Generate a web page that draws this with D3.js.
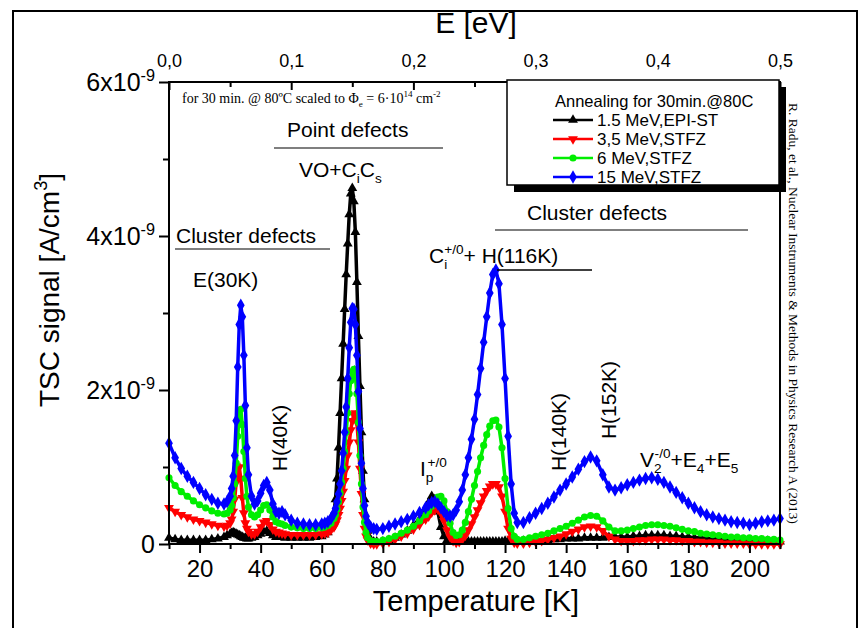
<!DOCTYPE html>
<html>
<meta charset="utf-8">
<style>
  body { margin: 0; background: #fff; }
  svg { font-family: "Liberation Sans", Arial, sans-serif; }
  .serif { font-family: "Liberation Serif", "Times New Roman", serif; }
</style>
<body>
<script src="https://d3js.org/d3.v7.min.js"></script>
<script>
// temperature grid [K]
const temps = [
  10,12,14,16,18,20,22,24,26,28,
  29,30,30.5,31,31.5,32,32.5,33,33.5,34,34.5,35,35.5,36,
  37,38,39,40,41,42,43,44,45,46,47,48,
  50,52,54,56,58,60,61,62,63,
  64,64.5,65,65.5,66,66.5,67,67.5,68,68.5,69,69.5,70,70.5,71,71.5,72,72.5,73,73.5,74,74.5,75,76,
  77,78,80,82,84,86,88,90,92,94,
  95,96,97,98,99,100,101,102,103,104,
  105,106,107,108,109,110,111,112,113,114,115,116,117,118,119,120,121,122,123,124,
  126,128,130,132,134,136,138,140,142,144,146,148,150,152,154,156,158,160,162,164,166,168,
  170,172,174,176,178,180,182,184,186,188,190,192,194,196,198,200,202,204,206,208,210
];

// TSC signal, units of 1e-9 A/cm3
const epi15 = [
  0.08,0.06,0.05,0.05,0.05,0.05,0.05,0.06,0.07,0.09,
  0.11,0.13,0.14,0.15,0.14,0.13,0.12,0.11,0.10,0.09,0.08,0.08,0.07,0.07,
  0.08,0.09,0.11,0.13,0.16,0.17,0.14,0.11,0.09,0.09,0.09,0.08,
  0.08,0.08,0.08,0.08,0.09,0.10,0.12,0.15,0.22,
  0.40,0.58,0.85,1.25,1.70,2.15,2.60,3.05,3.50,3.90,4.28,4.55,4.62,4.45,4.05,3.40,2.70,2.05,1.45,0.95,0.58,0.32,0.17,0.06,
  0.03,0.03,0.03,0.05,0.08,0.12,0.17,0.24,0.32,0.45,
  0.54,0.62,0.58,0.42,0.22,0.10,0.05,0.03,0.03,0.03,
  0.03,0.03,0.03,0.03,0.03,0.03,0.03,0.03,0.03,0.03,0.03,0.03,0.03,0.03,0.03,0.04,0.04,0.04,0.04,0.04,
  0.04,0.04,0.05,0.05,0.05,0.06,0.06,0.07,0.07,0.07,0.08,0.08,0.08,0.08,0.09,0.09,0.09,0.09,0.10,0.10,0.11,0.11,
  0.11,0.11,0.10,0.10,0.09,0.09,0.08,0.08,0.07,0.07,0.06,0.06,0.05,0.05,0.05,0.04,0.04,0.04,0.04,0.03,0.03
];
const stfz35 = [
  0.47,0.42,0.38,0.35,0.32,0.30,0.28,0.26,0.24,0.23,
  0.24,0.27,0.32,0.42,0.58,0.80,0.97,1.00,0.85,0.60,0.40,0.27,0.20,0.16,
  0.13,0.13,0.16,0.22,0.28,0.30,0.25,0.19,0.16,0.15,0.14,0.13,
  0.12,0.12,0.12,0.12,0.12,0.13,0.14,0.15,0.18,
  0.22,0.26,0.31,0.38,0.46,0.56,0.68,0.82,0.98,1.15,1.32,1.48,1.60,1.68,1.70,1.58,1.32,0.98,0.65,0.38,0.20,0.10,0.05,0.01,
  0.00,0.00,0.01,0.03,0.06,0.10,0.14,0.19,0.25,0.32,
  0.36,0.41,0.44,0.45,0.40,0.30,0.18,0.09,0.04,0.02,
  0.03,0.06,0.11,0.18,0.26,0.35,0.44,0.53,0.62,0.69,0.75,0.78,0.78,0.74,0.62,0.42,0.20,0.07,0.02,0.01,
  0.01,0.02,0.03,0.04,0.06,0.08,0.10,0.13,0.16,0.19,0.22,0.23,0.22,0.17,0.10,0.06,0.04,0.04,0.04,0.05,0.05,0.06,
  0.06,0.06,0.05,0.05,0.04,0.04,0.03,0.03,0.02,0.02,0.02,0.01,0.01,0.01,0.01,0.00,0.00,0.00,0.00,0.00,0.00
];
const stfz6 = [
  0.86,0.76,0.68,0.62,0.56,0.51,0.47,0.43,0.40,0.39,
  0.40,0.44,0.50,0.60,0.78,1.05,1.40,1.68,1.75,1.55,1.20,0.85,0.62,0.48,
  0.38,0.35,0.38,0.44,0.50,0.51,0.44,0.35,0.29,0.27,0.26,0.24,
  0.22,0.21,0.20,0.20,0.20,0.21,0.22,0.24,0.27,
  0.33,0.38,0.45,0.55,0.66,0.80,0.98,1.20,1.45,1.70,1.95,2.12,2.24,2.27,2.18,1.95,1.58,1.15,0.78,0.48,0.28,0.15,0.08,0.04,
  0.03,0.03,0.05,0.07,0.10,0.14,0.18,0.23,0.30,0.38,
  0.43,0.49,0.55,0.61,0.62,0.56,0.42,0.27,0.15,0.11,
  0.12,0.18,0.28,0.42,0.58,0.76,0.94,1.12,1.28,1.42,1.53,1.60,1.61,1.52,1.25,0.85,0.46,0.20,0.10,0.06,
  0.06,0.08,0.10,0.12,0.14,0.17,0.20,0.23,0.27,0.31,0.35,0.37,0.36,0.30,0.22,0.17,0.17,0.18,0.20,0.22,0.24,0.25,
  0.25,0.24,0.23,0.21,0.19,0.17,0.16,0.14,0.13,0.12,0.11,0.10,0.09,0.09,0.08,0.08,0.07,0.07,0.06,0.06,0.05
];
const stfz15 = [
  1.31,1.12,0.98,0.88,0.80,0.72,0.64,0.58,0.53,0.52,
  0.55,0.62,0.72,0.88,1.15,1.60,2.30,2.85,3.10,2.95,2.45,1.80,1.25,0.90,
  0.62,0.52,0.56,0.66,0.76,0.80,0.70,0.52,0.42,0.40,0.42,0.38,
  0.31,0.27,0.26,0.25,0.25,0.26,0.27,0.29,0.33,
  0.40,0.46,0.55,0.65,0.78,0.95,1.18,1.45,1.78,2.15,2.55,2.88,3.06,3.05,2.85,2.45,1.98,1.50,1.05,0.72,0.50,0.36,0.28,0.22,
  0.20,0.19,0.20,0.23,0.26,0.29,0.32,0.36,0.41,0.47,
  0.51,0.54,0.55,0.52,0.47,0.42,0.37,0.36,0.38,0.44,
  0.55,0.70,0.90,1.12,1.36,1.62,1.94,2.28,2.62,2.95,3.26,3.50,3.56,3.38,2.85,2.15,1.40,0.78,0.40,0.28,
  0.28,0.34,0.40,0.46,0.53,0.61,0.70,0.78,0.87,0.97,1.07,1.13,1.08,0.90,0.74,0.70,0.73,0.77,0.80,0.83,0.85,0.86,
  0.84,0.80,0.74,0.67,0.60,0.53,0.47,0.42,0.38,0.35,0.33,0.31,0.29,0.28,0.27,0.25,0.27,0.29,0.30,0.31,0.33
];

const seriesNames = ["1.5 MeV,EPI-ST", "3,5 MeV,STFZ", "6 MeV,STFZ", "15 MeV,STFZ"];
const seriesValues = [epi15, stfz35, stfz6, stfz15];
const seriesColors = ["#000000", "#ff0000", "#00ee00", "#0000ff"];
const seriesSymbols = ["up", "down", "circle", "diamond"];

const tempTicks = [20, 40, 60, 80, 100, 120, 140, 160, 180, 200];
const tempMinor = [10, 30, 50, 70, 90, 110, 130, 150, 170, 190, 210];
const energyTicks = [0, 0.1, 0.2, 0.3, 0.4, 0.5];
const energyMinor = [0.05, 0.15, 0.25, 0.35, 0.45];
const signalTicks = [0, 2, 4, 6];
const signalMinor = [1, 3, 5];

let width = 862, height = 628;
let plotLeft = 169, plotRight = 780, plotTop = 82, plotBottom = 544;

let svg = d3.select("body").append("svg")
  .attr("width", width)
  .attr("height", height);

let x = d3.scaleLinear().domain([10, 210]).range([plotLeft, plotRight]);
let xE = d3.scaleLinear().domain([0, 0.5]).range([plotLeft, plotRight]);
let y = d3.scaleLinear().domain([0, 6]).range([plotBottom, plotTop]);

// outer figure frame
svg.append("path")
  .attr("d", "M13,628V11H857V628")
  .attr("fill", "none").attr("stroke", "#000").attr("stroke-width", 2);

// helper for sub/superscripts
function rich(sel, parts, size) {
  let off = 0;
  parts.forEach(p => {
    let [t, k, dx] = p;
    let target = k === "sup" ? -0.42 * size : k === "sub" ? 0.3 * size : 0;
    let ts = sel.append("tspan")
      .attr("dy", target - off)
      .attr("font-size", k === "n" ? size : size * 0.65)
      .text(t);
    if (dx) ts.attr("dx", dx);
    off = target;
  });
}

// series
let line = d3.line().x((d, i) => x(temps[i])).y(d => y(d));
let symbolTypes = {
  up: d3.symbol().type(d3.symbolTriangle).size(42),
  down: d3.symbol().type(d3.symbolTriangle).size(42),
  circle: d3.symbol().type(d3.symbolCircle).size(40),
  diamond: d3.symbol().type(d3.symbolDiamond).size(52)
};

let plot = svg.append("g");
seriesValues.forEach((vals, s) => {
  let g = plot.append("g");
  g.append("path")
    .datum(vals)
    .attr("d", line)
    .attr("fill", "none")
    .attr("stroke", seriesColors[s])
    .attr("stroke-width", 3.5);
  g.selectAll("path.m")
    .data(vals)
    .join("path")
    .attr("class", "m")
    .attr("d", symbolTypes[seriesSymbols[s]]())
    .attr("transform", (d, i) => `translate(${x(temps[i])},${y(d)})` + (seriesSymbols[s] === "down" ? " rotate(180)" : ""))
    .attr("fill", seriesColors[s]);
});

// frame of the plot
svg.append("rect")
  .attr("x", plotLeft).attr("y", plotTop)
  .attr("width", plotRight - plotLeft).attr("height", plotBottom - plotTop)
  .attr("fill", "none").attr("stroke", "#000").attr("stroke-width", 2);

// bottom axis
let xAxis = svg.append("g")
  .attr("transform", `translate(0,${plotBottom})`)
  .call(d3.axisBottom(x).tickValues(tempTicks).tickSize(9).tickPadding(7));
svg.append("g")
  .attr("transform", `translate(0,${plotBottom})`)
  .call(d3.axisBottom(x).tickValues(tempMinor).tickSize(5).tickFormat(""));

// top axis (ticks inside)
let topAxis = svg.append("g")
  .attr("transform", `translate(0,${plotTop})`)
  .call(d3.axisTop(xE).tickValues(energyTicks).tickSizeInner(-8).tickSizeOuter(0).tickPadding(15)
    .tickFormat(d => d3.format(".1f")(d).replace(".", ",")));
svg.append("g")
  .attr("transform", `translate(0,${plotTop})`)
  .call(d3.axisTop(xE).tickValues(energyMinor).tickSizeInner(-5).tickSizeOuter(0).tickFormat(""));

// left axis
svg.append("g")
  .attr("transform", `translate(${plotLeft},0)`)
  .call(d3.axisLeft(y).tickValues(signalTicks).tickSize(10).tickFormat(""));
svg.append("g")
  .attr("transform", `translate(${plotLeft},0)`)
  .call(d3.axisLeft(y).tickValues(signalMinor).tickSize(6).tickFormat(""));

svg.selectAll(".domain").remove();
svg.selectAll(".tick line").attr("stroke", "#000").attr("stroke-width", 2);
xAxis.selectAll(".tick text").attr("font-size", 24).attr("fill", "#000").attr("font-family", "Liberation Sans, Arial, sans-serif");
topAxis.selectAll(".tick text").attr("font-size", 18).attr("fill", "#000").attr("font-family", "Liberation Sans, Arial, sans-serif");

let yl = svg.append("g");
signalTicks.forEach(v => {
  let t = yl.append("text")
    .attr("x", 155).attr("y", y(v) + 9)
    .attr("text-anchor", "end")
    .attr("font-size", 25);
  if (v === 0) t.text("0");
  else rich(t, [[v + "x10", "n"], ["-9", "sup"]], 25);
});

// axis titles
svg.append("text").attr("x", 476).attr("y", 33).attr("text-anchor", "middle")
  .attr("font-size", 30).text("E [eV]");
svg.append("text").attr("x", 476).attr("y", 611).attr("text-anchor", "middle")
  .attr("font-size", 29).text("Temperature [K]");
let yt = svg.append("text")
  .attr("transform", "translate(59,290) rotate(-90)")
  .attr("text-anchor", "middle").attr("font-size", 28);
rich(yt, [["TSC signal [A/cm", "n"], ["3", "sup"], ["]", "n"]], 28);

// legend
svg.append("rect").attr("x", 514).attr("y", 87).attr("width", 272).attr("height", 105).attr("fill", "#000");
svg.append("rect").attr("x", 507).attr("y", 80).attr("width", 272).attr("height", 105)
  .attr("fill", "#fff").attr("stroke", "#000").attr("stroke-width", 1.5);
svg.append("text").attr("x", 555).attr("y", 107).attr("font-size", 16.5).text("Annealing for 30min.@80C");
seriesNames.forEach((name, s) => {
  let ly = 120 + s * 19;
  svg.append("line").attr("x1", 553).attr("x2", 593).attr("y1", ly).attr("y2", ly)
    .attr("stroke", seriesColors[s]).attr("stroke-width", 2.5);
  svg.append("path").attr("d", symbolTypes[seriesSymbols[s]]())
    .attr("transform", `translate(573,${ly})` + (seriesSymbols[s] === "down" ? " rotate(180)" : ""))
    .attr("fill", seriesColors[s]);
  svg.append("text").attr("x", 597).attr("y", ly + 6).attr("font-size", 17).text(name);
});

// annotations
let note = svg.append("text").attr("class", "serif").attr("x", 182).attr("y", 103).attr("font-size", 14);
rich(note, [["for 30 min. @ 80ºC scaled to Φ", "n"], ["e", "sub"], [" = 6·10", "n"], ["14", "sup"], [" cm", "n"], ["-2", "sup"]], 14);

function label(xp, yp, parts, size) {
  let t = svg.append("text").attr("x", xp).attr("y", yp).attr("font-size", size || 21);
  rich(t, parts, size || 21);
  return t;
}
function rule(x1, x2, yp, color) {
  svg.append("line").attr("x1", x1).attr("x2", x2).attr("y1", yp).attr("y2", yp)
    .attr("stroke", color || "#555").attr("stroke-width", 1.5);
}

label(287, 137, [["Point defects", "n"]]);
rule(274, 443, 148);
label(299, 177, [["VO+C", "n"], ["i", "sub"], ["C", "n"], ["s", "sub"]]);
label(176, 243, [["Cluster defects", "n"]]);
rule(175, 330, 249);
label(193, 287, [["E(30K)", "n"]]);
label(527, 220, [["Cluster defects", "n"]]);
rule(495, 748, 230);
label(429, 263, [["C", "n"], ["i", "sub"], ["+/0", "sup", -3], ["+ H(116K)", "n"]]);
rule(497, 592, 270, "#000");
label(420, 476, [["I", "n"], ["p", "sub"], ["+/0", "sup", -6]]);
label(640, 467, [["V", "n"], ["2", "sub"], ["-/0", "sup", -7], ["+E", "n"], ["4", "sub"], ["+E", "n"], ["5", "sub"]]);

[["H(40K)", 287, 438], ["H(140K)", 566, 432], ["H(152K)", 616, 400]].forEach(([t, xp, yp]) => {
  svg.append("text")
    .attr("transform", `translate(${xp},${yp}) rotate(-90)`)
    .attr("text-anchor", "middle").attr("font-size", 21).text(t);
});

// citation
svg.append("text").attr("class", "serif")
  .attr("transform", "translate(789,103) rotate(90)")
  .attr("font-size", 13.5)
  .text("R. Radu, et al., Nuclear Instruments & Methods in Physics Research A (2013)");
</script>
</body>
</html>
